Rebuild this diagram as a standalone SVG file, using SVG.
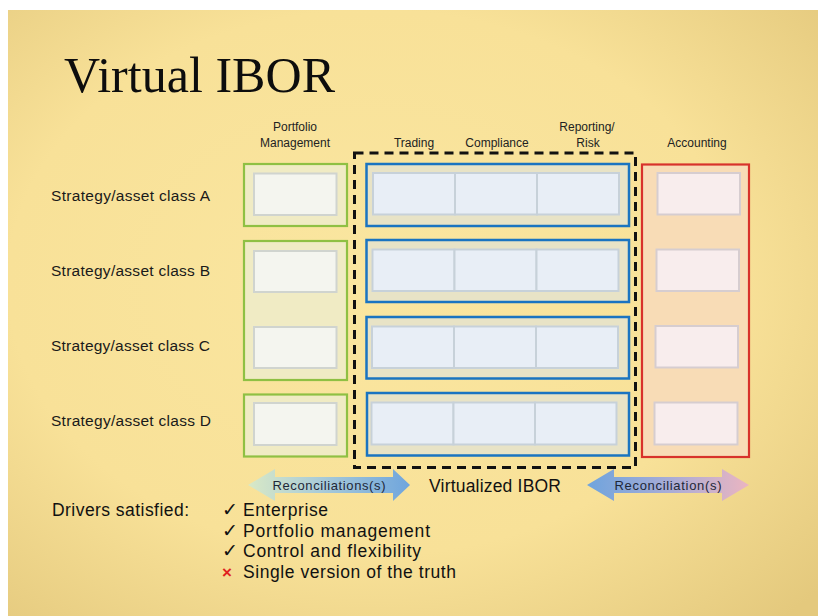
<svg xmlns="http://www.w3.org/2000/svg" width="820" height="616" viewBox="0 0 820 616">
  <defs>
    <radialGradient id="slideBg" cx="0.45" cy="0.45" r="0.75">
      <stop offset="0" stop-color="#fae6a0"/>
      <stop offset="0.6" stop-color="#f8e198"/>
      <stop offset="1" stop-color="#e4c97d"/>
    </radialGradient>
    <linearGradient id="arrowLeft" x1="0" y1="0" x2="1" y2="0">
      <stop offset="0" stop-color="#d9e9c6"/>
      <stop offset="0.45" stop-color="#a9cbd8"/>
      <stop offset="1" stop-color="#6fa5dd"/>
    </linearGradient>
    <linearGradient id="arrowRight" x1="0" y1="0" x2="1" y2="0">
      <stop offset="0" stop-color="#6fa4dd"/>
      <stop offset="0.5" stop-color="#a7acd6"/>
      <stop offset="1" stop-color="#ebb5c1"/>
    </linearGradient>
    <style>
      .sans { font-family: "Liberation Sans", Arial, sans-serif; fill: #111; }
      .hdr { font-size: 12px; fill: #222; text-anchor: middle; }
      .row { font-size: 15.5px; fill: #1a1a1a; }
      .pm-outer { fill: #f0ebc4; stroke: #8fc043; stroke-width: 2.2; }
      .pm-inner { fill: #f4f5ef; stroke: #d0d4cf; stroke-width: 2; }
      .ib-outer { fill: #e8e3c6; stroke: #1a74c1; stroke-width: 2.5; }
      .ib-cell { fill: #e8eef6; stroke: #c7d1d9; stroke-width: 2; }
      .ac-outer { fill: #f8dcb6; stroke: #d8322b; stroke-width: 2.2; }
      .ac-inner { fill: #f8eded; stroke: #d6cdd0; stroke-width: 2; }
      .dash { fill: none; stroke: #111; stroke-width: 3; stroke-dasharray: 9 6; }
      .arrow-label { font-size: 13px; fill: #1e2838; text-anchor: middle; }
      .list { font-size: 17.5px; fill: #111; }
      .tick { font-family: "DejaVu Sans", sans-serif; font-size: 19px; fill: #111; }
    </style>
  </defs>

  <!-- slide background -->
  <rect x="0" y="0" width="820" height="616" fill="#ffffff"/>
  <rect x="8" y="10" width="810" height="606" fill="url(#slideBg)"/>

  <!-- title -->
  <text x="64" y="92" font-family="'Liberation Serif', 'Times New Roman', serif" font-size="50" fill="#0d0d0d" textLength="271">Virtual IBOR</text>

  <!-- column headers -->
  <g id="headers" class="sans">
    <text class="sans hdr" x="295" y="131">Portfolio</text>
    <text class="sans hdr" x="295" y="147">Management</text>
    <text class="sans hdr" x="414" y="147">Trading</text>
    <text class="sans hdr" x="497" y="147">Compliance</text>
    <text class="sans hdr" x="587" y="131">Reporting/</text>
    <text class="sans hdr" x="588" y="147">Risk</text>
    <text class="sans hdr" x="697" y="147">Accounting</text>
  </g>

  <!-- row labels -->
  <g id="row-labels">
    <text class="sans row" x="51" y="201" textLength="159">Strategy/asset class A</text>
    <text class="sans row" x="51" y="276" textLength="159">Strategy/asset class B</text>
    <text class="sans row" x="51" y="351" textLength="159">Strategy/asset class C</text>
    <text class="sans row" x="51" y="426" textLength="160">Strategy/asset class D</text>
  </g>

  <!-- portfolio management blocks -->
  <g id="pm-a">
    <rect class="pm-outer" x="244" y="164" width="103" height="62"/>
    <rect class="pm-inner" x="254" y="173.5" width="82.5" height="41.5"/>
  </g>
  <g id="pm-bc">
    <rect class="pm-outer" x="244" y="241" width="103" height="139"/>
    <rect class="pm-inner" x="254" y="251" width="82.5" height="41"/>
    <rect class="pm-inner" x="254" y="327" width="82.5" height="41"/>
  </g>
  <g id="pm-d">
    <rect class="pm-outer" x="244" y="394.5" width="103" height="62"/>
    <rect class="pm-inner" x="254" y="403" width="82.5" height="42"/>
  </g>

  <!-- IBOR rows: trading / compliance / reporting -->
  <g id="ibor-a">
    <rect class="ib-outer" x="366.5" y="164" width="262.5" height="62"/>
    <rect class="ib-cell" x="373" y="173" width="82" height="41.5"/>
    <rect class="ib-cell" x="455" y="173" width="82" height="41.5"/>
    <rect class="ib-cell" x="537" y="173" width="82" height="41.5"/>
  </g>
  <g id="ibor-b">
    <rect class="ib-outer" x="366.5" y="240" width="262.5" height="62"/>
    <rect class="ib-cell" x="372.5" y="249.5" width="82" height="41.5"/>
    <rect class="ib-cell" x="454.5" y="249.5" width="82" height="41.5"/>
    <rect class="ib-cell" x="536.5" y="249.5" width="82" height="41.5"/>
  </g>
  <g id="ibor-c">
    <rect class="ib-outer" x="366.5" y="317" width="262.5" height="61.5"/>
    <rect class="ib-cell" x="372" y="326.5" width="82" height="41.5"/>
    <rect class="ib-cell" x="454" y="326.5" width="82" height="41.5"/>
    <rect class="ib-cell" x="536" y="326.5" width="82" height="41.5"/>
  </g>
  <g id="ibor-d">
    <rect class="ib-outer" x="367" y="393" width="262" height="62.5"/>
    <rect class="ib-cell" x="371.5" y="402.5" width="82" height="42"/>
    <rect class="ib-cell" x="453.5" y="402.5" width="81.5" height="42"/>
    <rect class="ib-cell" x="535" y="402.5" width="81.5" height="42"/>
  </g>

  <!-- virtualized IBOR boundary -->
  <g id="virtualized-ibor">
    <rect class="dash" x="354.5" y="153" width="281" height="314.5"/>
    <text class="sans" x="429" y="492" font-size="17.5" fill="#111" textLength="132">Virtualized IBOR</text>
  </g>

  <!-- accounting column -->
  <g id="accounting">
    <rect class="ac-outer" x="642" y="164.5" width="107" height="292.5"/>
    <rect class="ac-inner" x="657.5" y="173" width="82.5" height="41.5"/>
    <rect class="ac-inner" x="656.5" y="249.5" width="82.5" height="41.5"/>
    <rect class="ac-inner" x="655.5" y="326" width="82.5" height="41.5"/>
    <rect class="ac-inner" x="654.5" y="402.5" width="83" height="42"/>
  </g>

  <!-- reconciliation arrows -->
  <g id="connectors">
    <g id="recon-left">
      <path d="M248,485 L275,469 L275,477 L393,477 L393,469 L410,485 L393,501 L393,493 L275,493 L275,501 Z" fill="url(#arrowLeft)"/>
      <text class="sans arrow-label" x="329" y="489.5" textLength="113">Reconciliations(s)</text>
    </g>
    <g id="recon-right">
      <path d="M587,485 L614,469 L614,477 L722,477 L722,469 L749,485 L722,501 L722,493 L614,493 L614,501 Z" fill="url(#arrowRight)"/>
      <text class="sans arrow-label" x="668" y="489.5" textLength="107">Reconciliation(s)</text>
    </g>
  </g>

  <!-- drivers list -->
  <g id="drivers">
    <text class="sans list" x="52" y="516" textLength="137">Drivers satisfied:</text>
    <text class="tick" x="222" y="516">✓</text>
    <text class="sans list" x="243" y="516" textLength="85">Enterprise</text>
    <text class="tick" x="222" y="537">✓</text>
    <text class="sans list" x="243" y="537" textLength="187">Portfolio management</text>
    <text class="tick" x="222" y="557">✓</text>
    <text class="sans list" x="243" y="557" textLength="178">Control and flexibility</text>
    <text x="222" y="578" font-family="'Liberation Sans', Arial, sans-serif" font-size="17" font-weight="bold" fill="#e0231f">×</text>
    <text class="sans list" x="243" y="578" textLength="213">Single version of the truth</text>
  </g>
</svg>
